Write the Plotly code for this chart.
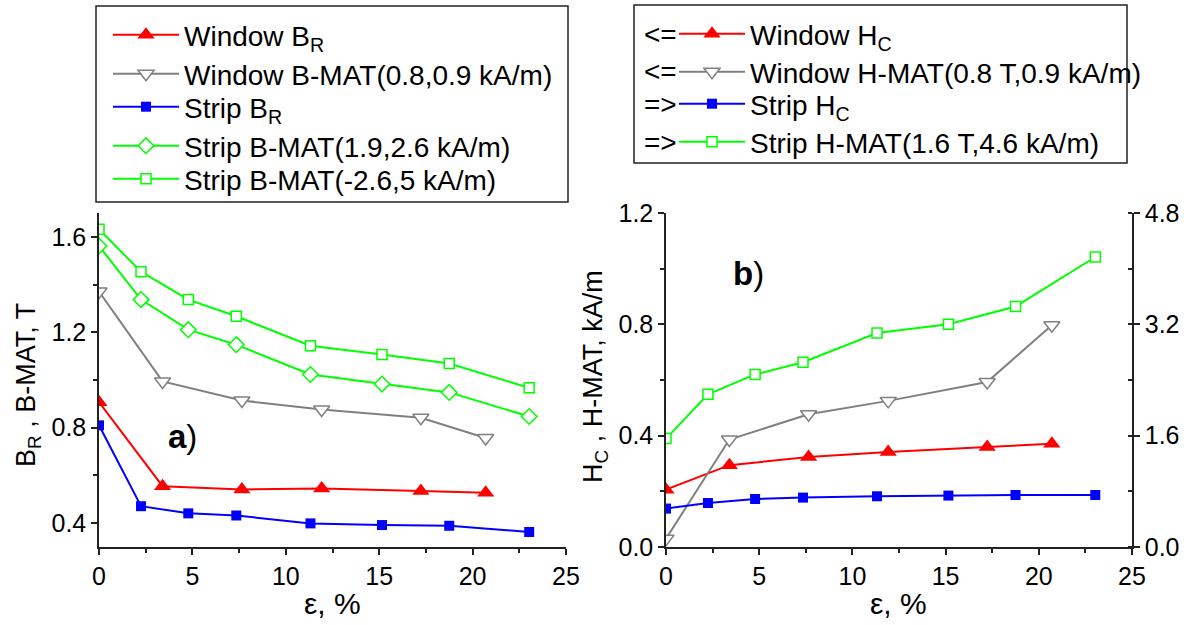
import plotly.graph_objects as go

W, H = 1192, 625

# ---------------- data ----------------
strain_window = [0, 3.4, 7.65, 11.92, 17.23, 20.7]
strain_strip = [0, 2.25, 4.78, 7.35, 11.32, 15.15, 18.75, 23.03]

# panel a) (T)
window_BR = [0.907, 0.555, 0.541, 0.545, 0.535, 0.527]
window_BMAT = [1.371, 0.994, 0.914, 0.876, 0.842, 0.757]
strip_BR = [0.810, 0.471, 0.441, 0.432, 0.399, 0.392, 0.389, 0.363]
strip_BMAT_19 = [1.562, 1.337, 1.211, 1.148, 1.023, 0.983, 0.948, 0.847]
strip_BMAT_26 = [1.632, 1.454, 1.337, 1.267, 1.144, 1.107, 1.069, 0.967]

# panel b) (kA/m); window on left axis, strip on right axis
window_HC = [0.206, 0.294, 0.323, 0.341, 0.359, 0.371]
window_HMAT = [0.030, 0.386, 0.477, 0.525, 0.593, 0.797]
strip_HC = [0.552, 0.632, 0.690, 0.710, 0.729, 0.739, 0.747, 0.747]
strip_HMAT = [1.558, 2.195, 2.480, 2.655, 3.076, 3.200, 3.455, 4.168]

names_a = ["Window B<sub>R</sub>", "Window B-MAT(0.8,0.9 kA/m)", "Strip B<sub>R</sub>",
           "Strip B-MAT(1.9,2.6 kA/m)", "Strip B-MAT(-2.6,5 kA/m)"]
names_b = ["Window H<sub>C</sub>", "Window H-MAT(0.8 T,0.9 kA/m)", "Strip H<sub>C</sub>",
           "Strip H-MAT(1.6 T,4.6 kA/m)"]
axis_arrows_b = ["<=", "<=", "=>", "=>"]

yticks_a = [0.4, 0.8, 1.2, 1.6]
yticks_b = [0.0, 0.4, 0.8, 1.2]
yticks_b_right = [0.0, 1.6, 3.2, 4.8]
xticks = [0, 5, 10, 15, 20, 25]

# ---------------- styles ----------------
FONT = "Liberation Sans, Arial, sans-serif"
RED, GRAY, BLUE, GREEN = "#FF0000", "#808080", "#0000FF", "#00FF00"
LW = 2
AXC = "#222222"
LEGFONT = dict(family=FONT, size=28, color="black")

def mk(symbol, color, size, filled=True):
    if filled:
        return dict(symbol=symbol, size=size, color=color, line=dict(width=0))
    return dict(symbol=symbol, size=size, color="white", line=dict(color=color, width=1.5))

def px(x):
    return x / W

def py(y):
    return 1 - y / H

# legend row positions (pixels) for each entry
rows_a = [35, 74, 107, 146, 179]
rows_b = [34, 72, 104, 142]
LEG_A_X = 108
LEG_B_X = 674

series_a = [
    (strain_window, window_BR, RED, mk("triangle-up", RED, 15)),
    (strain_window, window_BMAT, GRAY, mk("triangle-down", GRAY, 14, False)),
    (strain_strip, strip_BR, BLUE, mk("square", BLUE, 10)),
    (strain_strip, strip_BMAT_19, GREEN, mk("diamond", GREEN, 12, False)),
    (strain_strip, strip_BMAT_26, GREEN, mk("square", GREEN, 10, False)),
]
series_b = [
    (strain_window, window_HC, RED, mk("triangle-up", RED, 15), "y2"),
    (strain_window, window_HMAT, GRAY, mk("triangle-down", GRAY, 14, False), "y2"),
    (strain_strip, strip_HC, BLUE, mk("square", BLUE, 10), "y3"),
    (strain_strip, strip_HMAT, GREEN, mk("square", GREEN, 10, False), "y3"),
]

fig = go.Figure()
legends = {}
k = 0
for (xs, ys, col, m), name, r in zip(series_a, names_a, rows_a):
    k += 1
    lid = "legend" if k == 1 else f"legend{k}"
    fig.add_trace(go.Scatter(x=xs, y=ys, name=name, mode="lines+markers",
                             line=dict(color=col, width=LW), marker=m,
                             xaxis="x", yaxis="y", legend=lid))
    legends[lid] = dict(x=px(LEG_A_X), y=py(r), xanchor="left", yanchor="middle",
                        borderwidth=0, bgcolor="rgba(0,0,0,0)", font=LEGFONT,
                        itemwidth=66)
for (xs, ys, col, m, yax), name, r in zip(series_b, names_b, rows_b):
    k += 1
    lid = f"legend{k}"
    fig.add_trace(go.Scatter(x=xs, y=ys, name=name, mode="lines+markers",
                             line=dict(color=col, width=LW), marker=m,
                             xaxis="x2", yaxis=yax, legend=lid))
    legends[lid] = dict(x=px(LEG_B_X), y=py(r), xanchor="left", yanchor="middle",
                        borderwidth=0, bgcolor="rgba(0,0,0,0)", font=LEGFONT,
                        itemwidth=66)

# ---------------- layout ----------------
ydom = [py(547), py(213)]
TICKF = dict(family=FONT, size=25, color="black")
axis_common = dict(showline=True, linecolor=AXC, linewidth=1.5, ticks="outside",
                   ticklen=6, tickwidth=1.5, tickcolor=AXC, showgrid=False,
                   zeroline=False, tickfont=TICKF, automargin=False)
minor_x = dict(dtick=2.5, ticks="outside", ticklen=4, tickwidth=1.5, tickcolor=AXC)

fig.update_layout(
    width=W, height=H, margin=dict(l=0, r=0, t=0, b=0, autoexpand=False),
    paper_bgcolor="white", plot_bgcolor="white",
    font=dict(family=FONT, color="black"),
    xaxis=dict(domain=[px(99), px(566)], range=[0, 25], tickvals=xticks, anchor="y",
               minor=minor_x, **axis_common),
    yaxis=dict(domain=ydom, range=[0.3, 1.7], tickvals=yticks_a, anchor="x",
               minor=dict(dtick=0.2, ticks="outside", ticklen=4, tickwidth=1.5, tickcolor=AXC),
               tickformat=".1f", **axis_common),
    xaxis2=dict(domain=[px(666), px(1132)], range=[0, 25], tickvals=xticks, anchor="y2",
                minor=minor_x, **axis_common),
    yaxis2=dict(domain=ydom, range=[0, 1.2], tickvals=yticks_b, anchor="x2",
                minor=dict(dtick=0.2, ticks="outside", ticklen=4, tickwidth=1.5, tickcolor=AXC),
                tickformat=".1f", **axis_common),
    yaxis3=dict(range=[0, 4.8], tickvals=yticks_b_right, anchor="x2", overlaying="y2", side="right",
                minor=dict(dtick=0.8, ticks="inside", ticklen=4, tickwidth=1.5, tickcolor=AXC),
                tickformat=".1f", **axis_common),
    showlegend=True,
    **legends,
)

# legend frames
fig.add_shape(type="rect", xref="paper", yref="paper", x0=px(96), x1=px(568), y0=py(202), y1=py(6),
              line=dict(color=AXC, width=1.5), layer="below")
fig.add_shape(type="rect", xref="paper", yref="paper", x0=px(634), x1=px(1127), y0=py(163), y1=py(5),
              line=dict(color=AXC, width=1.5), layer="below")

for a, r in zip(axis_arrows_b, rows_b):
    fig.add_annotation(text=a, xref="paper", yref="paper", x=px(679), y=py(r), showarrow=False,
                       font=LEGFONT, xanchor="right", yanchor="middle")

# axis titles and panel labels
TITLEF = dict(family=FONT, size=27, color="black")
fig.add_annotation(text="B<sub>R</sub> , B-MAT, T", xref="paper", yref="paper", x=px(28), y=py(385),
                   textangle=-90, showarrow=False, font=TITLEF, xanchor="center", yanchor="middle")
fig.add_annotation(text="H<sub>C</sub> , H-MAT, kA/m", xref="paper", yref="paper", x=px(595), y=py(377),
                   textangle=-90, showarrow=False, font=TITLEF, xanchor="center", yanchor="middle")
fig.add_annotation(text="ε, %", xref="paper", yref="paper", x=px(332), y=py(603),
                   showarrow=False, font=dict(family=FONT, size=30, color="black"),
                   xanchor="center", yanchor="middle")
fig.add_annotation(text="ε, %", xref="paper", yref="paper", x=px(898), y=py(603),
                   showarrow=False, font=dict(family=FONT, size=30, color="black"),
                   xanchor="center", yanchor="middle")
fig.add_annotation(text="<b>a</b>)", xref="paper", yref="paper", x=px(183), y=py(436),
                   showarrow=False, font=dict(family=FONT, size=33, color="black"),
                   xanchor="center", yanchor="middle")
fig.add_annotation(text="<b>b</b>)", xref="paper", yref="paper", x=px(748), y=py(273),
                   showarrow=False, font=dict(family=FONT, size=33, color="black"),
                   xanchor="center", yanchor="middle")

fig.write_html("out.html")
